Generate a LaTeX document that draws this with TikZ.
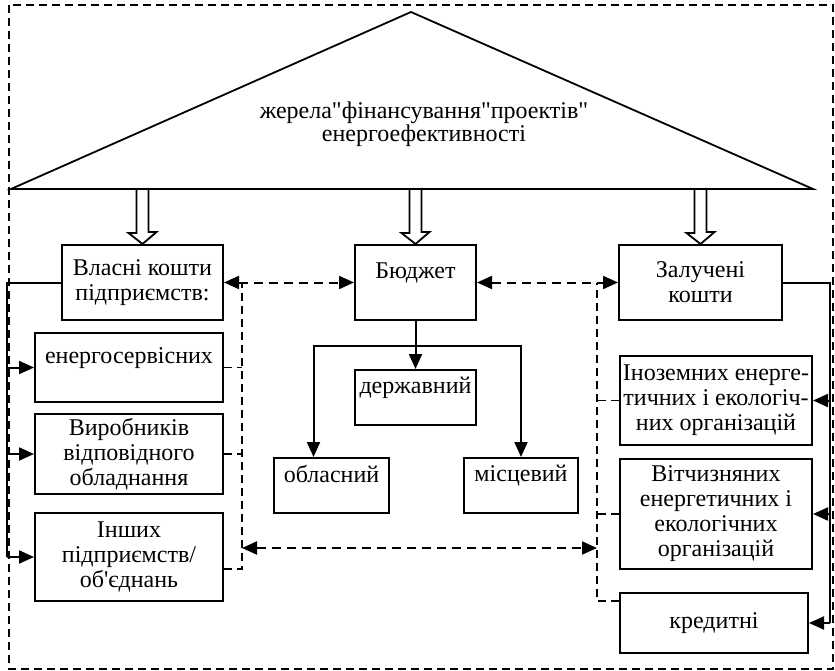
\documentclass[tikz,border=0pt]{standalone}
\usepackage{fontspec}
\setmainfont{Liberation Serif}[Ligatures=TeXOff]
\usepackage{tikz}
\tikzstyle{box} = [draw, line width=2pt, align=center, inner sep=1pt,
    font=\fontsize{24}{25}\selectfont]
\tikzstyle{hightext} = [text depth=24pt]
\tikzstyle{link} = [line width=2pt]
\tikzstyle{dlink} = [line width=2pt, dash pattern=on 9pt off 6pt]
\tikzstyle{dline} = [line width=1.5pt, dash pattern=on 8pt off 5pt]
\tikzstyle{hollow} = [line width=1.8pt, line join=miter]
\usetikzlibrary{arrows.meta}
\tikzset{>={Triangle[length=15pt,width=13pt]}}

\begin{document}
\begin{tikzpicture}[x=1pt,y=-1pt]
\useasboundingbox (0,0) rectangle (835,671);
\begin{scope}
    %frame and roof
    \draw[dline] (9,5) rectangle (833,669);
    \coordinate (tl) at (11,189);
    \coordinate (tp) at (411,12);
    \coordinate (tr) at (813,189);
    \draw[hollow] (tl) -- (tp) -- (tr) -- cycle;
    \node[font=\fontsize{24}{23}\selectfont, align=center] (title) at (424,124)
        {жерела"фінансування"проектів"\\енергоефективності};

    %main boxes
    \node[box, minimum width=161pt, minimum height=75pt] (own) at (142.5,282.5)
        {Власні кошти\\підприємств:};
    \node[box, hightext, minimum width=121pt, minimum height=75pt] (budget) at (415.5,282.5)
        {Бюджет};
    \node[box, minimum width=163pt, minimum height=75pt] (attr) at (700.5,282.5)
        {Залучені\\кошти};

    %own funds
    \node[box, hightext, minimum width=188pt, minimum height=69pt] (sub1) at (129,367.5)
        {енергосервісних};
    \node[box, minimum width=188pt, minimum height=80pt] (sub2) at (129,454)
        {Виробників\\відповідного\\обладнання};
    \node[box, minimum width=188pt, minimum height=88pt] (sub3) at (129,557)
        {Інших\\підприємств/\\об'єднань};

    %budget
    \node[box, hightext, minimum width=121pt, minimum height=55pt] (state) at (415.5,397.5)
        {державний};
    \node[box, hightext, minimum width=115pt, minimum height=55pt] (region) at (331.5,485.5)
        {обласний};
    \node[box, hightext, minimum width=114pt, minimum height=55pt] (local) at (521,485.5)
        {місцевий};

    %attracted funds
    \node[box, minimum width=192pt, minimum height=89pt] (foreign) at (716,400.5)
        {Іноземних енерге-\\тичних і екологіч-\\них організацій};
    \node[box, minimum width=192pt, minimum height=110pt] (domestic) at (716,514)
        {Вітчизняних\\енергетичних і\\екологічних\\організацій};
    \node[box, minimum width=188pt, minimum height=60pt] (credit) at (714,623)
        {кредитні};

    %hollow arrows from the roof
    \foreach \b in {own,budget,attr}
        \draw[hollow] (\b.north|-tl) ++(-6,0) -- ++(0,44) -- ++(-8,0) -- (\b.north)
            -- ++(14,-12) -- ++(-8,0) -- ++(0,-44);

    %solid buses
    \coordinate (lbus) at (7,0);
    \coordinate (rbus) at (830,0);
    \draw[link] (own.west) -| (lbus |- sub3.west);
    \foreach \s in {sub1,sub2,sub3}
        \draw[link,->] (lbus |- \s.west) -- (\s.west);
    \draw[link] (attr.east) -| (rbus |- credit.east);
    \foreach \s in {foreign,domestic,credit}
        \draw[link,->] (rbus |- \s.east) -- (\s.east);

    %budget levels
    \coordinate (fork) at (415.5,346);
    \draw[link,->] (budget.south) -- (state.north);
    \draw[link,->] (fork) -| ([xshift=-18pt]region.north);
    \draw[link,->] (fork) -| (local.north);

    %dashed links
    \coordinate (ld) at (242,0);
    \coordinate (rd) at (597,0);
    \draw[dlink,<->] (own.east) -- (budget.west);
    \draw[dlink,<->] (budget.east) -- (attr.west);
    \draw[dline] ([yshift=-12pt]sub3.east) -| (ld |- own.east);
    \draw[dline] (sub1.east) -- (ld |- sub1.east);
    \draw[dline] (sub2.east) -- (ld |- sub2.east);
    \draw[dline] ([yshift=22pt]credit.west) -| (rd |- attr.west);
    \draw[dline] (foreign.west) -- (rd |- foreign.west);
    \draw[dline] (domestic.west) -- (rd |- domestic.west);
    \coordinate (lj) at (242,548);
    \coordinate (rj) at (597,548);
    \draw[dlink,<->] (lj) -- (rj);
\end{scope}
\end{tikzpicture}
\end{document}
